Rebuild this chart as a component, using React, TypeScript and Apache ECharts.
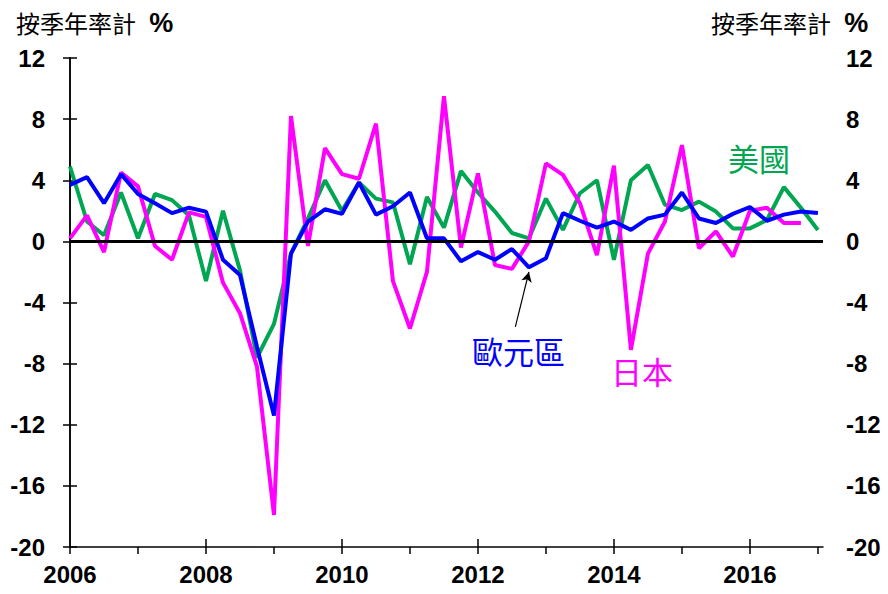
import React, { useEffect, useRef } from "react";
import * as echarts from "echarts";

const startYear = 2006;
const yearTicks = [0, 4, 8, 12, 16, 20, 24, 28, 32, 36, 40, 44];
const evenYearTicks = [8, 16, 24, 32, 40];
const yearLabels = [0, 8, 16, 24, 32, 40];

const usGrowth = [
  4.9, 1.3, 0.4, 3.2, 0.2, 3.1, 2.7, 1.7, -2.6, 2.0, -1.9, -7.6, -5.4, -0.8, 1.5, 4.0,
  2.0, 3.85, 2.8, 2.55, -1.5, 2.9, 0.9, 4.6, 3.2, 1.95, 0.55, 0.2, 2.8, 0.75, 3.15, 4.0,
  -1.2, 4.0, 5.0, 2.4, 2.05, 2.6, 1.95, 0.85, 0.85, 1.4, 3.55, 2.2, 0.75,
];
const euroGrowth = [
  3.7, 4.2, 2.5, 4.4, 3.1, 2.5, 1.85, 2.2, 1.95, -1.2, -2.2, -6.9, -11.4, -0.8, 1.3, 2.1,
  1.8, 3.85, 1.75, 2.3, 3.2, 0.2, 0.2, -1.3, -0.7, -1.2, -0.5, -1.7, -1.1, 1.85, 1.35, 0.9,
  1.3, 0.75, 1.5, 1.75, 3.2, 1.5, 1.2, 1.8, 2.25, 1.35, 1.75, 1.95, 1.85,
];
const japanGrowth = [
  0.2, 1.7, -0.7, 4.5, 3.6, -0.3, -1.2, 1.9, 1.6, -2.7, -4.7, -8.2, -17.9, 8.2, -0.3, 6.1,
  4.4, 4.1, 7.7, -2.6, -5.7, -2.0, 9.5, -0.4, 4.45, -1.55, -1.8, 0.0, 5.1, 4.35, 2.5, -0.9,
  4.95, -7.1, -0.8, 1.3, 6.3, -0.45, 0.65, -1.0, 2.0, 2.2, 1.2, 1.2,
];

const GREEN = "#00A651";
const BLUE = "#0000FF";
const MAGENTA = "#FF00FF";
const LABEL_FONT = "'Liberation Sans', Arial, sans-serif";
const CJK_FONT = "'Noto Sans CJK TC', 'Noto Sans CJK SC', sans-serif";

const toPairs = (arr: number[]) => arr.map((v, i) => [i, v]);

export default function App() {
  const ref = useRef<HTMLDivElement>(null);

  useEffect(() => {
    if (!ref.current) return;
    const chart = echarts.init(ref.current, undefined, { renderer: "svg" });

    const yAxisCommon = {
      type: "value",
      min: -20,
      max: 12,
      interval: 4,
      splitLine: { show: false },
      axisLine: { show: true, lineStyle: { color: "#000", width: 1.5 } },
      axisTick: { show: true, length: 7, lineStyle: { color: "#000", width: 1.5 } },
      axisLabel: {
        color: "#000",
        fontFamily: LABEL_FONT,
        fontWeight: "bold",
        fontSize: 24,
      },
    };

    const titleRich = {
      c: { fontFamily: CJK_FONT, fontSize: 24, color: "#000" },
      s: { fontFamily: LABEL_FONT, fontSize: 24, color: "#000" },
      p: { fontFamily: LABEL_FONT, fontSize: 27, fontWeight: "bold", color: "#000" },
    };

    chart.setOption({
      animation: false,
      backgroundColor: "#fff",
      grid: { left: 70, right: 65, top: 58, bottom: 47, containLabel: false },
      xAxis: [
        {
          type: "value",
          position: "bottom",
          min: 0,
          max: 44.3,
          splitLine: { show: false },
          axisLine: { show: true, onZero: false, lineStyle: { color: "#000", width: 1.5 } },
          axisTick: {
            show: true,
            length: 7,
            customValues: yearTicks,
            lineStyle: { color: "#000", width: 1.5 },
          },
          axisLabel: {
            customValues: yearLabels,
            formatter: (v: number) => String(startYear + Math.round(v / 4)),
            color: "#000",
            fontFamily: LABEL_FONT,
            fontWeight: "bold",
            fontSize: 24,
            margin: 15,
          },
        },
        {
          type: "value",
          position: "bottom",
          offset: 0,
          min: 0,
          max: 44.3,
          splitLine: { show: false },
          axisLine: { show: false, onZero: false },
          axisLabel: { show: false },
          axisTick: {
            show: true,
            inside: true,
            length: 8,
            customValues: evenYearTicks,
            lineStyle: { color: "#000", width: 1.5 },
          },
        },
      ],
      yAxis: [
        { ...yAxisCommon, position: "left", axisLabel: { ...yAxisCommon.axisLabel, margin: 25 } },
        { ...yAxisCommon, position: "right", axisLabel: { ...yAxisCommon.axisLabel, margin: 23 } },
      ],
      series: [
        {
          name: "美國",
          type: "line",
          data: toPairs(usGrowth),
          symbol: "none",
          lineStyle: { color: GREEN, width: 4 },
          z: 2,
        },
        {
          name: "日本",
          type: "line",
          data: toPairs(japanGrowth),
          symbol: "none",
          lineStyle: { color: MAGENTA, width: 4 },
          z: 3,
        },
        {
          name: "歐元區",
          type: "line",
          data: toPairs(euroGrowth),
          symbol: "none",
          lineStyle: { color: BLUE, width: 4 },
          z: 4,
          markLine: {
            silent: true,
            animation: false,
            label: { show: false },
            data: [
              [
                { coord: [26.2, -5.6], symbol: "none" },
                { coord: [27.0, -2.0], symbol: "arrow", symbolSize: [8, 10] },
              ],
            ],
            lineStyle: { color: "#000", width: 1.2, type: "solid" },
          },
        },
        {
          name: "zero",
          type: "line",
          data: [],
          z: 5,
          markLine: {
            silent: true,
            animation: false,
            symbol: ["none", "none"],
            label: { show: false },
            data: [{ yAxis: 0 }],
            lineStyle: { color: "#000", width: 3, type: "solid" },
          },
        },
      ],
      graphic: [
        {
          type: "text",
          left: 16,
          top: 9,
          style: { text: "{c|按季年率計}{s|  }{p|%}", rich: titleRich, fill: "#000" },
        },
        {
          type: "text",
          left: 711,
          top: 9,
          style: { text: "{c|按季年率計}{s|  }{p|%}", rich: titleRich, fill: "#000" },
        },
        {
          type: "text",
          left: 728,
          top: 142,
          style: { text: "美國", fill: GREEN, font: `31px ${CJK_FONT}` },
        },
        {
          type: "text",
          left: 472,
          top: 335,
          style: { text: "歐元區", fill: BLUE, font: `31px ${CJK_FONT}` },
        },
        {
          type: "text",
          left: 611,
          top: 355,
          style: { text: "日本", fill: MAGENTA, font: `31px ${CJK_FONT}` },
        },
      ],
    });

    return () => chart.dispose();
  }, []);

  return (
    <div
      ref={ref}
      style={{ position: "fixed", left: 0, top: 0, width: 888, height: 594, background: "#fff" }}
    />
  );
}
